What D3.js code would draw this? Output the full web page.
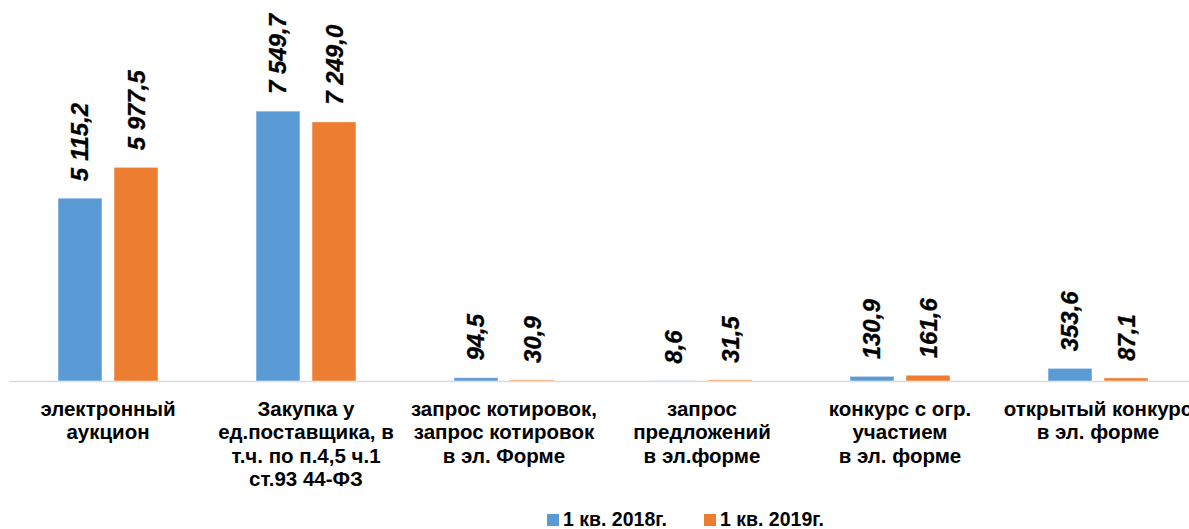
<!DOCTYPE html>
<html>
<head>
<meta charset="utf-8">
<script src="https://cdn.jsdelivr.net/npm/d3@7"></script>
<style>
  body { margin: 0; background: #fff; }
  svg { display: block; font-family: "Liberation Sans", Arial, sans-serif; }
</style>
</head>
<body>
<div id="chart"></div>
<script>
// data
var categories = [
    ["электронный", "аукцион"],
    ["Закупка у", "ед.поставщика, в", "т.ч. по п.4,5 ч.1", "ст.93 44-ФЗ"],
    ["запрос котировок,", "запрос котировок", "в эл. Форме"],
    ["запрос", "предложений", "в эл.форме"],
    ["конкурс с огр.", "участием", "в эл. форме"],
    ["открытый конкурс", "в эл. форме"]
];
var seriesNames = ["1 кв. 2018г.", "1 кв. 2019г."];
var values2018 = [5115.2, 7549.7, 94.5, 8.6, 130.9, 353.6];
var values2019 = [5977.5, 7249.0, 30.9, 31.5, 161.6, 87.1];
var colors = ["#5b9bd5", "#ed7d31"];

document.addEventListener("DOMContentLoaded", () => {
    drawChart();
});

let drawChart = () => {
    var width = 1189
    var height = 529

    var svg = d3.select("#chart")
        .append("svg")
        .attr("width", width)
        .attr("height", height)

    var keys = categories.map((c, i) => i)
    var data = keys.map((i) => [values2018[i], values2019[i]])

    var x0 = d3.scaleBand()
        .domain(keys)
        .range([9, 1197])

    var x1 = d3.scaleBand()
        .domain([0, 1])
        .range([49, 149])
        .paddingInner(0.2143)

    var y = d3.scaleLinear()
        .domain([0, 8000])
        .range([381, 95])

    var fmt = d3.formatLocale({ decimal: ",", thousands: " ", grouping: [3], currency: ["", ""] }).format(",.1f")

    // axis line
    svg.append("g")
        .attr("transform", "translate(0," + y(0) + ")")
        .call(d3.axisBottom(x0).tickSize(0).tickFormat(""))
        .call((g) => g.select(".domain").attr("stroke", "#d9d9d9").attr("stroke-width", 1.5))

    // bars
    var groups = svg.append("g")
        .selectAll("g")
        .data(data)
        .enter()
        .append("g")
        .attr("transform", (d, i) => "translate(" + x0(i) + ",0)")

    groups.selectAll("rect")
        .data((d) => d)
        .enter()
        .append("rect")
        .attr("x", (d, j) => x1(j))
        .attr("width", x1.bandwidth())
        .attr("y", (d) => y(d))
        .attr("height", (d) => y(0) - y(d))
        .attr("fill", (d, j) => colors[j])
        .attr("stroke", "#fff")
        .attr("stroke-opacity", 0.5)
        .attr("stroke-width", 1)

    // value labels
    groups.selectAll("text")
        .data((d) => d)
        .enter()
        .append("text")
        .attr("transform", (d, j) => "translate(" + (x1(j) + x1.bandwidth() / 2 + 8.5) + "," + (y(d) - 17) + ") rotate(-90)")
        .attr("font-size", "24px")
        .attr("font-weight", "bold")
        .attr("font-style", "italic")
        .attr("fill", "#000")
        .attr("stroke", "#000")
        .attr("stroke-width", 0.3)
        .text((d) => fmt(d))

    // category labels
    var labels = svg.append("g")
        .selectAll("text")
        .data(categories)
        .enter()
        .append("text")
        .attr("text-anchor", "middle")
        .attr("font-size", "20.5px")
        .attr("font-weight", "bold")
        .attr("fill", "#000")

    labels.selectAll("tspan")
        .data((d, i) => d.map((line) => ({ line: line, i: i })))
        .enter()
        .append("tspan")
        .attr("x", (d) => x0(d.i) + x0.bandwidth() / 2)
        .attr("y", (d, k) => 416 + k * 23.4)
        .text((d) => d.line)

    // legend
    var legendX = [547, 704]
    var legend = svg.append("g")
        .selectAll("g")
        .data(seriesNames)
        .enter()
        .append("g")
        .attr("transform", (d, j) => "translate(" + legendX[j] + ",514)")

    legend.append("rect")
        .attr("width", 12)
        .attr("height", 12)
        .attr("fill", (d, j) => colors[j])

    legend.append("text")
        .attr("x", 16)
        .attr("y", 12)
        .attr("font-size", "19.5px")
        .attr("font-weight", "bold")
        .attr("fill", "#000")
        .text((d) => d)
}
</script>
</body>
</html>
